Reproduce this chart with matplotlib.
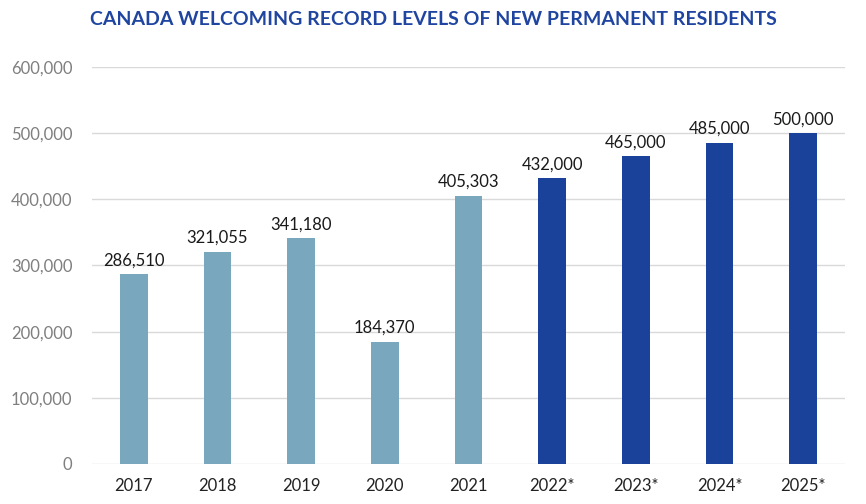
import matplotlib.pyplot as plt

years = ['2017', '2018', '2019', '2020', '2021', '2022*', '2023*', '2024*', '2025*']
residents = [286510, 321055, 341180, 184370, 405303, 432000, 465000, 485000, 500000]
is_target = [False, False, False, False, False, True, True, True, True]

plt.rcParams['font.family'] = ['Lato', 'DejaVu Sans']

fig = plt.figure(figsize=(8.66, 5.04), dpi=100)
ax = fig.add_axes([0.1062, 0.0794, 0.8695, 0.7877])

colors = ['#1b429a' if t else '#79a7bd' for t in is_target]
x = range(len(years))
bars = ax.bar(x, residents, width=0.33, color=colors, zorder=3)

for xi, v in zip(x, residents):
    ax.text(xi, v + 9000, f'{v:,}', ha='center', va='bottom', fontsize=12, color='#1a1a1a')

ax.set_xlim(-0.5, len(years) - 0.5)
ax.set_ylim(0, 600000)
ax.set_yticks(range(0, 600001, 100000))
ax.set_yticklabels([f'{v:,}' for v in range(0, 600001, 100000)])
ax.set_xticks(list(x))
ax.set_xticklabels(years)
ax.grid(axis='y', color='#d9d9d9', linewidth=1, zorder=0)
for s in ax.spines.values():
    s.set_visible(False)
ax.tick_params(axis='both', length=0)
ax.tick_params(axis='y', labelsize=12, labelcolor='#7f7f7f', pad=14)
ax.tick_params(axis='x', labelsize=12, labelcolor='#222222', pad=10)

fig.text(0.5, 0.962, 'CANADA WELCOMING RECORD LEVELS OF NEW PERMANENT RESIDENTS',
         ha='center', va='center', fontsize=14, fontweight='bold', color='#1f45a0')

fig.savefig('out.png', dpi=100)
